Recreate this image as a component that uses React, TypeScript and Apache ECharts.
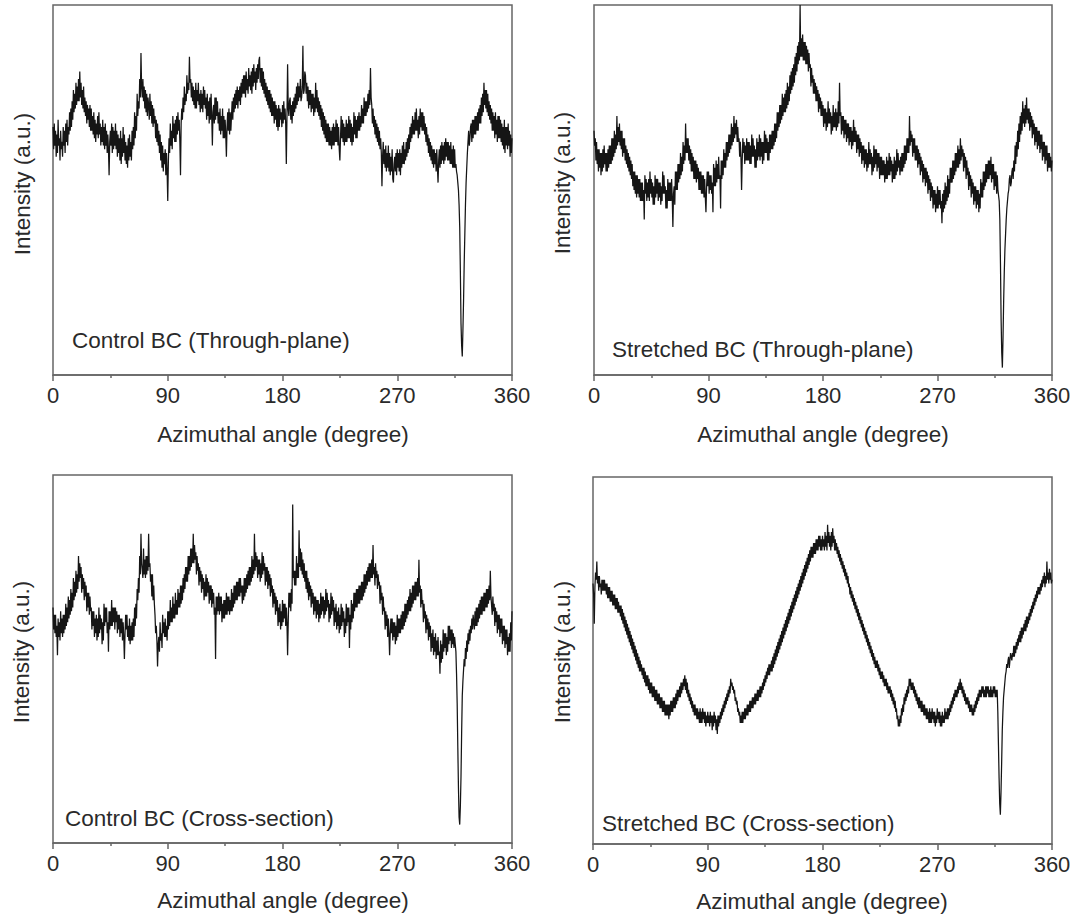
import React, { useEffect, useRef } from "react";
import * as echarts from "echarts";

// Azimuthal angle sampling: one intensity value every 0.5 degree, 0..360
const ANGLE_STEP = 0.5;
const xTickValues = [0, 90, 180, 270, 360];

const xAxisTitle = "Azimuthal angle (degree)";
const yAxisTitle = "Intensity (a.u.)";
const panelLabels = [
  "Control BC (Through-plane)",
  "Stretched BC (Through-plane)",
  "Control BC (Cross-section)",
  "Stretched BC (Cross-section)",
];

// Intensity (a.u., 0 = bottom of frame, 100 = top of frame); each row = 10 degrees
const controlThrough = [
  67, 61, 68, 62, 66, 59, 65, 60, 69, 62, 64, 58, 66, 61, 63, 59, 67, 62, 66, 60,
  68, 63, 69, 62, 67, 65, 71, 66, 72, 67, 74, 69, 77, 71, 76, 72, 79, 73, 78, 74,
  80, 74, 82, 75, 79, 73, 77, 72, 78, 71, 75, 70, 74, 68, 73, 69, 72, 67, 73, 66,
  72, 66, 70, 65, 71, 64, 69, 63, 68, 65, 70, 64, 71, 65, 68, 62, 67, 63, 69, 62,
  67, 61, 68, 62, 66, 60, 65, 61, 54, 63, 66, 62, 68, 60, 67, 61, 66, 62, 68, 61,
  66, 59, 65, 60, 64, 58, 66, 57, 64, 59, 67, 60, 65, 58, 63, 57, 62, 56, 64, 58,
  65, 59, 63, 58, 66, 61, 67, 62, 71, 64, 70, 66, 76, 70, 74, 72, 80, 75, 87, 78,
  75, 80, 74, 78, 72, 77, 71, 76, 70, 75, 73, 69, 76, 70, 74, 68, 73, 67, 72, 68,
  70, 64, 69, 63, 68, 62, 66, 60, 65, 58, 63, 56, 62, 55, 60, 57, 61, 54, 60, 55,
  47, 58, 64, 60, 68, 62, 66, 61, 70, 64, 68, 63, 69, 63, 70, 65, 71, 66, 69, 63,
  54, 68, 72, 69, 75, 71, 78, 73, 76, 74, 81, 76, 79, 77, 86, 79, 80, 75, 79, 74,
  78, 73, 77, 72, 79, 72, 77, 74, 79, 73, 76, 71, 77, 72, 76, 71, 78, 73, 77, 72,
  75, 69, 76, 70, 74, 68, 75, 69, 76, 70, 62, 71, 73, 68, 75, 69, 75, 70, 74, 68,
  71, 66, 72, 65, 70, 66, 72, 64, 70, 64, 69, 65, 59, 67, 71, 66, 72, 65, 71, 66,
  70, 74, 69, 75, 71, 76, 72, 77, 73, 78, 72, 77, 74, 78, 73, 79, 75, 80, 76, 81,
  76, 81, 75, 82, 77, 80, 76, 83, 78, 81, 77, 82, 76, 83, 78, 84, 79, 82, 77, 83,
  79, 84, 80, 85, 86, 79, 83, 78, 83, 77, 82, 76, 80, 75, 79, 74, 78, 73, 77, 72,
  77, 71, 76, 70, 75, 70, 74, 68, 74, 69, 73, 67, 72, 66, 73, 67, 72, 69, 71, 67,
  73, 68, 74, 69, 72, 68, 57, 70, 84, 72, 70, 74, 75, 69, 73, 68, 74, 70, 75, 71,
  76, 72, 78, 73, 79, 74, 78, 75, 80, 74, 75, 78, 89, 76, 77, 82, 81, 76, 79, 74,
  78, 72, 77, 73, 77, 71, 76, 72, 76, 70, 75, 71, 79, 72, 77, 71, 75, 70, 74, 69,
  73, 67, 72, 66, 71, 65, 70, 64, 69, 63, 68, 63, 68, 62, 67, 62, 66, 61, 67, 62,
  68, 62, 67, 63, 69, 63, 68, 62, 67, 61, 58, 64, 70, 64, 69, 63, 68, 62, 67, 63,
  69, 63, 68, 64, 70, 64, 69, 63, 68, 62, 67, 63, 71, 65, 70, 64, 69, 64, 70, 66,
  71, 66, 70, 67, 73, 68, 72, 68, 75, 70, 74, 70, 74, 71, 76, 72, 77, 73, 83, 75,
  73, 68, 72, 67, 70, 65, 69, 64, 68, 63, 67, 62, 66, 61, 64, 60, 51, 59, 63, 57,
  61, 56, 62, 55, 60, 56, 62, 55, 60, 54, 59, 55, 61, 53, 52, 57, 59, 55, 60, 54,
  61, 56, 60, 55, 61, 54, 60, 56, 62, 57, 63, 57, 61, 58, 63, 59, 64, 60, 65, 61,
  67, 63, 68, 64, 70, 65, 69, 65, 71, 66, 72, 66, 69, 64, 70, 65, 72, 67, 71, 66,
  71, 66, 70, 65, 68, 63, 67, 62, 65, 60, 64, 59, 63, 58, 62, 57, 61, 56, 61, 57,
  60, 55, 61, 56, 52, 58, 61, 56, 62, 57, 63, 58, 62, 57, 63, 58, 64, 59, 63, 58,
  63, 58, 62, 57, 63, 57, 61, 56, 62, 56, 61, 56, 57, 55, 54, 52, 50, 46, 40, 28,
  14, 8, 5, 12, 20, 30, 38, 46, 52, 56, 60, 63, 66, 62, 64, 67, 68, 63, 69, 64,
  69, 65, 70, 65, 70, 66, 71, 66, 72, 68, 73, 68, 75, 70, 76, 71, 79, 73, 77, 72,
  77, 71, 76, 70, 74, 69, 73, 68, 72, 66, 71, 66, 70, 64, 71, 65, 69, 63, 70, 64,
  70, 64, 69, 63, 68, 62, 67, 61, 69, 60, 67, 62, 67, 61, 68, 62, 66, 59, 65, 60,
  64,
];

const stretchedThrough = [
  66, 62, 64, 58, 63, 57, 61, 55, 61, 56, 60, 54, 60, 55, 61, 56, 62, 57, 60, 55,
  60, 55, 61, 56, 62, 57, 62, 57, 64, 58, 64, 59, 66, 60, 65, 61, 70, 62, 67, 63,
  68, 62, 66, 61, 66, 59, 64, 60, 64, 58, 62, 57, 61, 56, 60, 55, 59, 54, 58, 53,
  57, 51, 55, 50, 55, 49, 54, 48, 54, 49, 53, 48, 53, 47, 52, 47, 52, 47, 50, 42,
  54, 49, 53, 47, 52, 48, 53, 47, 55, 49, 53, 48, 52, 46, 51, 46, 54, 48, 53, 49,
  53, 47, 52, 48, 52, 46, 51, 47, 55, 49, 54, 49, 51, 45, 50, 45, 53, 47, 52, 47,
  52, 47, 53, 48, 40, 49, 51, 46, 55, 50, 55, 50, 57, 52, 57, 53, 60, 54, 59, 55,
  63, 57, 62, 58, 68, 60, 64, 60, 64, 58, 62, 57, 61, 55, 60, 55, 59, 53, 58, 53,
  58, 52, 57, 53, 56, 50, 55, 50, 55, 49, 54, 49, 54, 48, 53, 48, 44, 51, 55, 51,
  55, 49, 54, 50, 54, 49, 52, 44, 57, 51, 56, 51, 58, 52, 57, 53, 59, 53, 54, 45,
  58, 53, 58, 54, 61, 56, 60, 56, 63, 58, 63, 59, 65, 60, 65, 61, 68, 62, 67, 63,
  70, 64, 68, 65, 69, 63, 67, 63, 64, 59, 63, 59, 50, 58, 64, 60, 63, 57, 62, 58,
  64, 58, 63, 58, 63, 57, 62, 57, 65, 59, 64, 59, 62, 56, 61, 56, 64, 58, 63, 59,
  65, 58, 64, 59, 63, 57, 63, 58, 66, 60, 65, 60, 64, 58, 63, 58, 65, 60, 65, 61,
  66, 61, 66, 62, 68, 63, 68, 64, 71, 66, 71, 67, 73, 68, 73, 69, 76, 70, 75, 71,
  76, 71, 77, 72, 79, 73, 78, 74, 81, 76, 82, 77, 83, 78, 84, 79, 86, 81, 87, 82,
  89, 84, 90, 85, 100, 86, 91, 86, 92, 85, 90, 85, 90, 84, 89, 84, 88, 82, 87, 83,
  84, 78, 83, 79, 81, 76, 80, 76, 79, 74, 78, 74, 77, 71, 76, 72, 75, 70, 74, 70,
  73, 67, 72, 68, 72, 66, 71, 67, 74, 68, 72, 68, 71, 65, 70, 66, 73, 67, 71, 67,
  72, 66, 71, 67, 74, 68, 79, 70, 71, 65, 70, 66, 70, 64, 69, 65, 69, 63, 68, 64,
  68, 62, 67, 63, 67, 61, 66, 62, 69, 63, 67, 63, 66, 60, 65, 61, 65, 59, 64, 60,
  63, 57, 62, 58, 62, 56, 61, 57, 61, 55, 60, 56, 63, 57, 61, 57, 60, 54, 59, 55,
  62, 56, 61, 57, 61, 55, 60, 56, 60, 53, 59, 54, 59, 54, 58, 54, 58, 52, 57, 53,
  59, 53, 58, 54, 60, 54, 59, 55, 58, 52, 57, 53, 59, 53, 58, 54, 61, 55, 60, 56,
  58, 54, 59, 55, 60, 55, 60, 56, 62, 57, 62, 58, 64, 60, 64, 60, 70, 62, 66, 63,
  65, 59, 64, 60, 64, 58, 62, 58, 62, 56, 61, 57, 60, 54, 59, 55, 58, 52, 57, 53,
  56, 51, 56, 52, 55, 49, 54, 50, 53, 47, 52, 48, 51, 45, 50, 46, 50, 44, 49, 45,
  51, 45, 50, 46, 50, 45, 47, 41, 49, 44, 50, 45, 52, 46, 51, 47, 54, 48, 53, 49,
  56, 52, 56, 52, 58, 53, 58, 54, 60, 55, 60, 56, 62, 56, 61, 57, 64, 58, 62, 59,
  61, 55, 60, 56, 59, 53, 58, 54, 56, 50, 55, 51, 54, 48, 53, 49, 52, 46, 51, 47,
  51, 45, 50, 46, 50, 44, 49, 45, 53, 48, 52, 48, 55, 50, 55, 51, 57, 52, 57, 53,
  58, 53, 58, 54, 59, 52, 57, 53, 57, 50, 55, 51, 55, 49, 54, 50, 50, 47, 42, 30,
  15, 6, 2, 10, 20, 28, 34, 38, 42, 45, 47, 49, 50, 53, 54, 51, 52, 55, 56, 53,
  58, 55, 62, 57, 63, 59, 66, 61, 68, 63, 70, 65, 71, 66, 74, 68, 72, 67, 73, 68,
  75, 69, 72, 68, 72, 66, 71, 67, 70, 64, 69, 65, 68, 62, 67, 63, 67, 61, 66, 62,
  66, 60, 65, 61, 65, 58, 63, 59, 63, 57, 62, 58, 62, 55, 60, 56, 60, 56, 59, 55,
  58,
];

const controlCross = [
  64, 58, 62, 57, 62, 56, 59, 51, 61, 56, 60, 55, 63, 57, 61, 56, 62, 57, 62, 58,
  65, 59, 64, 60, 67, 61, 66, 62, 69, 63, 68, 64, 72, 66, 71, 67, 74, 68, 73, 69,
  78, 71, 76, 72, 75, 68, 73, 69, 72, 66, 71, 67, 70, 63, 68, 64, 68, 62, 67, 63,
  64, 58, 63, 59, 63, 56, 61, 57, 62, 55, 61, 56, 64, 57, 62, 58, 61, 54, 60, 55,
  65, 59, 64, 60, 64, 57, 60, 52, 63, 58, 63, 59, 66, 59, 64, 60, 64, 58, 64, 60,
  63, 57, 62, 58, 62, 56, 61, 57, 61, 55, 60, 56, 50, 57, 62, 58, 62, 56, 59, 55,
  61, 54, 59, 55, 60, 55, 61, 56, 64, 59, 65, 61, 69, 66, 72, 68, 78, 73, 84, 76,
  76, 72, 80, 73, 77, 72, 78, 73, 78, 74, 84, 75, 76, 71, 73, 67, 73, 66, 70, 65,
  62, 57, 59, 55, 48, 54, 56, 52, 60, 55, 57, 53, 62, 57, 60, 56, 61, 56, 59, 55,
  63, 58, 63, 59, 66, 60, 64, 60, 67, 61, 65, 61, 68, 62, 66, 62, 69, 64, 68, 64,
  70, 65, 70, 66, 72, 68, 73, 69, 75, 71, 75, 71, 78, 73, 78, 74, 80, 75, 80, 76,
  84, 76, 81, 77, 79, 73, 78, 74, 76, 70, 75, 71, 74, 68, 73, 69, 72, 66, 71, 67,
  73, 67, 72, 68, 71, 65, 70, 66, 70, 64, 69, 65, 68, 62, 64, 50, 67, 62, 67, 63,
  68, 62, 67, 63, 67, 60, 65, 61, 66, 61, 66, 62, 68, 62, 67, 63, 67, 62, 66, 63,
  69, 63, 68, 64, 70, 65, 70, 66, 71, 66, 71, 67, 72, 67, 72, 68, 70, 65, 70, 66,
  72, 67, 72, 68, 73, 69, 74, 70, 75, 70, 75, 71, 78, 72, 77, 73, 84, 74, 79, 75,
  78, 72, 77, 73, 77, 71, 76, 72, 79, 73, 78, 74, 76, 70, 75, 71, 75, 69, 74, 70,
  73, 67, 72, 68, 70, 64, 69, 65, 68, 62, 67, 63, 66, 59, 64, 60, 65, 58, 63, 59,
  66, 60, 65, 61, 65, 59, 64, 60, 51, 60, 68, 64, 68, 63, 69, 65, 92, 72, 74, 70,
  74, 70, 78, 72, 76, 72, 85, 75, 80, 74, 79, 73, 77, 72, 76, 71, 74, 69, 74, 68,
  72, 66, 71, 67, 70, 64, 69, 65, 68, 62, 67, 63, 67, 61, 66, 62, 66, 60, 65, 61,
  68, 62, 67, 63, 67, 61, 66, 62, 69, 63, 68, 64, 66, 60, 65, 61, 68, 62, 67, 63,
  66, 59, 64, 60, 65, 58, 63, 59, 64, 57, 62, 58, 65, 59, 64, 60, 63, 56, 61, 57,
  65, 59, 64, 60, 64, 53, 62, 58, 66, 60, 65, 61, 68, 63, 68, 64, 69, 64, 69, 65,
  70, 65, 70, 66, 71, 66, 71, 67, 73, 68, 73, 69, 74, 70, 75, 71, 76, 71, 76, 72,
  77, 72, 81, 73, 75, 70, 76, 72, 74, 69, 73, 70, 71, 65, 70, 66, 68, 62, 67, 63,
  64, 58, 63, 59, 62, 56, 61, 57, 51, 57, 61, 57, 61, 55, 60, 56, 60, 54, 59, 55,
  62, 56, 61, 57, 61, 57, 62, 58, 63, 58, 63, 59, 65, 60, 65, 61, 66, 62, 67, 63,
  69, 63, 68, 64, 70, 65, 70, 66, 71, 66, 71, 67, 72, 67, 77, 68, 70, 64, 69, 65,
  66, 60, 65, 61, 63, 57, 62, 58, 61, 55, 60, 56, 59, 52, 57, 53, 58, 51, 56, 52,
  57, 50, 55, 51, 56, 51, 52, 46, 55, 49, 54, 50, 58, 52, 57, 53, 57, 51, 56, 52,
  59, 54, 59, 55, 58, 53, 58, 54, 57, 53, 56, 54, 52, 46, 38, 26, 15, 7, 5, 10,
  18, 30, 40, 44, 47, 50, 48, 53, 50, 55, 52, 57, 54, 58, 55, 59, 57, 61, 58, 62,
  62, 58, 63, 59, 64, 59, 64, 60, 65, 61, 66, 62, 67, 62, 67, 63, 68, 63, 68, 64,
  69, 64, 69, 65, 70, 66, 74, 67, 67, 62, 67, 63, 65, 59, 64, 60, 63, 57, 62, 58,
  62, 56, 61, 57, 61, 54, 59, 55, 59, 53, 58, 54, 58, 51, 56, 52, 57, 52, 60, 55,
  63,
];

const stretchedCross = [
  71, 68, 60, 70, 74, 72, 77, 71, 73, 69, 73, 70, 71, 68, 72, 69, 72, 69, 72, 69,
  71, 68, 71, 67, 70, 67, 70, 66, 69, 66, 69, 65, 68, 65, 68, 64, 67, 64, 67, 63,
  66, 63, 65, 62, 65, 61, 64, 60, 63, 59, 62, 58, 61, 57, 60, 56, 59, 55, 58, 54,
  57, 53, 56, 52, 55, 51, 54, 50, 53, 49, 52, 48, 51, 47, 50, 47, 49, 46, 48, 45,
  48, 44, 47, 43, 46, 43, 46, 42, 45, 41, 44, 41, 44, 40, 43, 40, 43, 39, 42, 39,
  42, 38, 41, 38, 41, 37, 40, 37, 40, 36, 39, 36, 39, 35, 38, 35, 38, 35, 38, 34,
  38, 35, 39, 36, 39, 36, 40, 37, 40, 37, 41, 38, 42, 39, 42, 40, 43, 40, 44, 41,
  44, 42, 45, 43, 46, 42, 45, 41, 44, 40, 42, 39, 41, 38, 40, 37, 39, 36, 38, 35,
  38, 35, 37, 34, 37, 34, 36, 33, 37, 33, 36, 33, 37, 34, 36, 33, 36, 32, 35, 33,
  36, 33, 35, 32, 36, 33, 35, 31, 35, 32, 36, 33, 35, 31, 34, 30, 35, 32, 35, 33,
  36, 34, 37, 35, 38, 36, 39, 37, 40, 38, 41, 39, 42, 40, 43, 41, 45, 43, 44, 42,
  43, 41, 42, 39, 40, 38, 39, 36, 37, 35, 36, 33, 35, 33, 36, 33, 36, 34, 37, 34,
  37, 35, 38, 35, 38, 36, 39, 36, 39, 37, 40, 37, 40, 38, 41, 38, 41, 39, 42, 39,
  42, 40, 43, 40, 43, 41, 44, 42, 45, 43, 46, 44, 47, 45, 48, 46, 49, 46, 49, 47,
  50, 47, 51, 48, 52, 49, 53, 50, 54, 51, 55, 52, 56, 53, 57, 54, 58, 55, 59, 56,
  60, 57, 61, 58, 62, 59, 63, 60, 64, 61, 65, 62, 66, 63, 67, 64, 68, 65, 69, 66,
  70, 67, 71, 68, 72, 69, 73, 70, 74, 71, 75, 72, 76, 73, 77, 74, 78, 75, 79, 76,
  80, 77, 81, 78, 81, 78, 82, 79, 82, 79, 83, 80, 83, 80, 84, 81, 84, 80, 83, 80,
  84, 81, 83, 80, 85, 81, 84, 80, 87, 82, 85, 81, 84, 80, 85, 81, 86, 82, 84, 80,
  83, 80, 82, 79, 81, 78, 80, 77, 79, 76, 78, 75, 77, 74, 76, 73, 75, 72, 74, 71,
  73, 70, 71, 68, 70, 67, 69, 66, 68, 65, 67, 64, 66, 63, 65, 62, 64, 61, 63, 60,
  62, 59, 61, 58, 60, 57, 59, 56, 58, 55, 57, 54, 56, 53, 55, 52, 54, 51, 53, 50,
  52, 49, 51, 48, 50, 48, 50, 47, 49, 46, 48, 45, 47, 45, 47, 44, 46, 43, 45, 43,
  45, 42, 44, 41, 43, 41, 43, 40, 42, 39, 41, 38, 40, 37, 39, 36, 37, 34, 35, 32,
  34, 32, 35, 33, 37, 35, 38, 36, 40, 38, 41, 39, 42, 40, 43, 41, 45, 43, 45, 42,
  44, 42, 44, 41, 43, 40, 42, 39, 41, 38, 40, 37, 40, 37, 39, 36, 39, 36, 38, 35,
  38, 35, 37, 34, 37, 34, 36, 33, 37, 33, 36, 33, 37, 34, 36, 33, 36, 32, 35, 33,
  37, 34, 36, 33, 36, 32, 35, 32, 36, 33, 35, 33, 37, 34, 36, 34, 37, 34, 37, 35,
  38, 36, 39, 37, 40, 38, 41, 39, 42, 40, 42, 40, 43, 41, 44, 42, 45, 42, 44, 41,
  43, 40, 42, 39, 41, 38, 40, 38, 40, 37, 39, 36, 38, 36, 38, 35, 37, 35, 38, 36,
  39, 37, 40, 38, 41, 39, 42, 40, 42, 40, 43, 41, 43, 40, 42, 40, 43, 40, 43, 41,
  43, 40, 42, 40, 43, 40, 42, 40, 43, 41, 43, 40, 42, 40, 42, 36, 27, 18, 11, 8,
  14, 22, 31, 36, 40, 42, 44, 46, 47, 49, 48, 50, 51, 48, 50, 52, 52, 50, 52, 51,
  54, 51, 54, 52, 55, 53, 56, 54, 57, 55, 58, 55, 59, 56, 59, 57, 60, 58, 61, 58,
  62, 59, 62, 60, 63, 61, 64, 62, 65, 63, 66, 64, 67, 65, 68, 66, 69, 67, 70, 68,
  70, 68, 71, 69, 72, 70, 73, 71, 74, 70, 73, 71, 77, 72, 74, 71, 75, 72, 74, 71,
  72,
];

const seriesList = [controlThrough, stretchedThrough, controlCross, stretchedCross];

// layout (pixels)
const grids = [
  { left: 53, top: 5, width: 459, height: 370 },
  { left: 594, top: 5, width: 458, height: 370 },
  { left: 53, top: 475, width: 459, height: 368 },
  { left: 593, top: 477, width: 459, height: 367 },
];
const yTitlePos = [
  [22, 184],
  [562, 183],
  [21, 652],
  [562, 652],
];
const xTitlePos = [
  [283, 434],
  [823, 434],
  [283, 900],
  [822, 901],
];
const labelPos = [
  [72, 340],
  [612, 349],
  [65, 818],
  [602, 823],
];

const FONT = "'Liberation Sans', Arial, Helvetica, sans-serif";
const AXIS_COLOR = "#666";
const TEXT_COLOR = "#2a2a2a";

export default function App() {
  const ref = useRef<HTMLDivElement>(null);

  useEffect(() => {
    document.body.style.margin = "0";
    if (!ref.current) return;
    const chart = echarts.init(ref.current, undefined, { renderer: "svg" });

    const graphic: any[] = [];
    for (let i = 0; i < 4; i++) {
      graphic.push({
        type: "text",
        x: yTitlePos[i][0],
        y: yTitlePos[i][1],
        rotation: Math.PI / 2,
        style: {
          text: yAxisTitle,
          fontSize: 22.5,
          fontFamily: FONT,
          fill: TEXT_COLOR,
          align: "center",
          verticalAlign: "middle",
        },
      });
      graphic.push({
        type: "text",
        x: xTitlePos[i][0],
        y: xTitlePos[i][1],
        style: {
          text: xAxisTitle,
          fontSize: 22.5,
          fontFamily: FONT,
          fill: TEXT_COLOR,
          align: "center",
          verticalAlign: "middle",
        },
      });
      graphic.push({
        type: "text",
        x: labelPos[i][0],
        y: labelPos[i][1],
        style: {
          text: panelLabels[i],
          fontSize: 22.5,
          fontFamily: FONT,
          fill: TEXT_COLOR,
          align: "left",
          verticalAlign: "middle",
        },
      });
    }

    chart.setOption({
      animation: false,
      backgroundColor: "#ffffff",
      grid: grids.map((g) => ({
        ...g,
        show: true,
        borderColor: AXIS_COLOR,
        borderWidth: 1.5,
        backgroundColor: "transparent",
      })),
      xAxis: grids.map((_, i) => ({
        type: "value",
        gridIndex: i,
        min: xTickValues[0],
        max: xTickValues[xTickValues.length - 1],
        interval: 90,
        axisLine: { show: true, lineStyle: { color: AXIS_COLOR, width: 1.5 } },
        axisTick: { show: true, length: 6, lineStyle: { color: AXIS_COLOR, width: 1.5 } },
        minorTick: { show: true, splitNumber: 2, length: 3, lineStyle: { color: AXIS_COLOR, width: 1.5 } },
        splitLine: { show: false },
        axisLabel: {
          fontSize: 22,
          fontFamily: FONT,
          color: TEXT_COLOR,
          margin: 9,
        },
      })),
      yAxis: grids.map((_, i) => ({
        type: "value",
        gridIndex: i,
        min: 0,
        max: 100,
        axisLine: { show: false },
        axisTick: { show: false },
        axisLabel: { show: false },
        splitLine: { show: false },
      })),
      series: seriesList.map((vals, i) => ({
        type: "line",
        xAxisIndex: i,
        yAxisIndex: i,
        data: vals.map((v, k) => [k * ANGLE_STEP, v]),
        showSymbol: false,
        symbol: "none",
        lineStyle: { color: "#151515", width: 1.25 },
      })),
      graphic,
    });

    return () => chart.dispose();
  }, []);

  return (
    <div
      ref={ref}
      style={{ position: "absolute", left: 0, top: 0, width: 1074, height: 915 }}
    />
  );
}
